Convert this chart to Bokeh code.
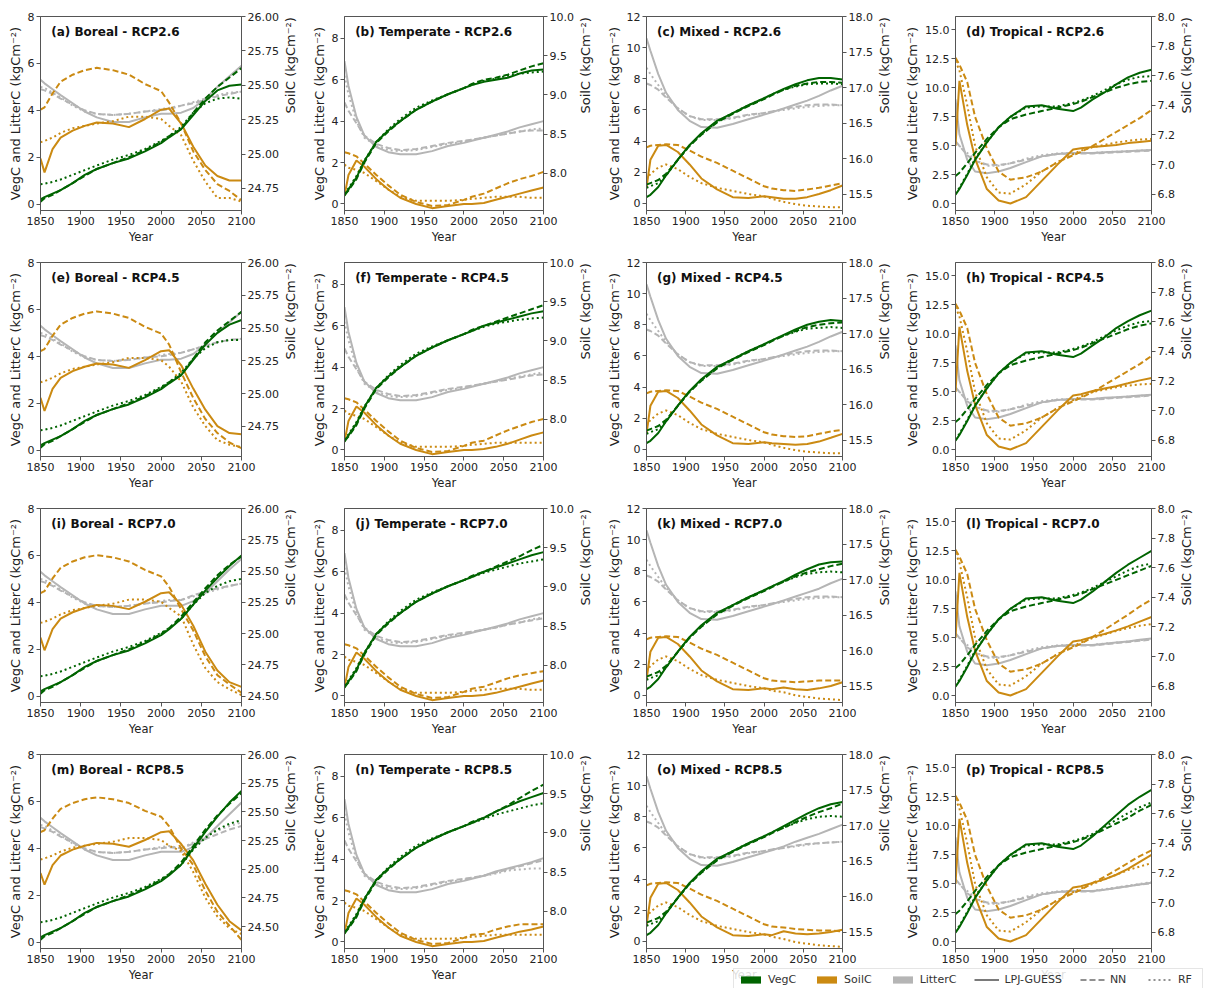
import math
from bokeh.plotting import figure
from bokeh.layouts import gridplot, column
from bokeh.models import (Range1d, LinearAxis, FixedTicker, Label, Legend,
                          LegendItem, PrintfTickFormatter)
from bokeh.embed import file_html
from bokeh.resources import INLINE

# ---------------------------------------------------------------- data
HIST_YEARS = [1850, 1855, 1865, 1875, 1890, 1905, 1920, 1940, 1960, 1980, 2000, 2010]
FUT_YEARS = [2025, 2040, 2055, 2070, 2085, 2100]
SCENARIOS = ["RCP2.6", "RCP4.5", "RCP7.0", "RCP8.5"]
REGIONS = ["Boreal", "Temperate", "Mixed", "Tropical"]
MODELS = ["LPJ-GUESS", "NN", "RF"]
X_TICKS = [1850, 1900, 1950, 2000, 2050, 2100]

# ---- Boreal
boreal_veg_lpj_hist = [0.2, 0.3, 0.45, 0.6, 0.9, 1.25, 1.5, 1.75, 1.95, 2.25, 2.6, 2.85]
boreal_veg_nn_hist = [0.1, 0.25, 0.4, 0.6, 0.9, 1.2, 1.5, 1.75, 2.0, 2.3, 2.65, 2.9]
boreal_veg_rf_hist = [0.85, 0.87, 0.95, 1.05, 1.25, 1.45, 1.65, 1.9, 2.1, 2.35, 2.7, 2.9]
boreal_veg_lpj_fut = {"RCP2.6": [3.2, 3.8, 4.4, 4.85, 5.05, 5.1], "RCP4.5": [3.2, 3.85, 4.5, 5.0, 5.35, 5.55],
                      "RCP7.0": [3.3, 3.9, 4.5, 5.05, 5.55, 6.0], "RCP8.5": [3.3, 4.0, 4.7, 5.35, 5.95, 6.45]}
boreal_veg_nn_fut = {"RCP2.6": [3.2, 3.9, 4.5, 5.0, 5.4, 5.8], "RCP4.5": [3.2, 3.9, 4.6, 5.1, 5.5, 5.9],
                     "RCP7.0": [3.4, 4.0, 4.6, 5.15, 5.6, 5.95], "RCP8.5": [3.4, 4.1, 4.8, 5.4, 5.9, 6.35]}
boreal_veg_rf_fut = {"RCP2.6": [3.3, 3.9, 4.3, 4.5, 4.55, 4.5], "RCP4.5": [3.3, 3.9, 4.35, 4.6, 4.7, 4.7],
                     "RCP7.0": [3.3, 3.9, 4.4, 4.7, 4.9, 5.0], "RCP8.5": [3.3, 3.95, 4.45, 4.8, 5.05, 5.2]}
boreal_lit_lpj_hist = [5.3, 5.15, 4.9, 4.65, 4.3, 3.95, 3.7, 3.5, 3.5, 3.7, 3.85, 3.85]
boreal_lit_nn_hist = [4.9, 4.85, 4.7, 4.5, 4.25, 4.0, 3.85, 3.8, 3.85, 3.95, 4.0, 4.05]
boreal_lit_rf_hist = [5.0, 4.95, 4.75, 4.55, 4.2, 3.95, 3.85, 3.8, 3.85, 3.95, 4.05, 4.1]
boreal_lit_lpj_fut = {"RCP2.6": [3.9, 4.1, 4.5, 5.0, 5.45, 5.9], "RCP4.5": [3.9, 4.1, 4.5, 5.0, 5.45, 5.9],
                      "RCP7.0": [3.85, 4.05, 4.4, 4.9, 5.4, 5.85], "RCP8.5": [3.85, 4.05, 4.45, 4.95, 5.45, 5.95]}
boreal_lit_nn_fut = {"RCP2.6": [4.2, 4.3, 4.45, 4.6, 4.7, 4.8], "RCP4.5": [4.15, 4.3, 4.45, 4.6, 4.7, 4.75],
                     "RCP7.0": [4.1, 4.3, 4.45, 4.6, 4.7, 4.8], "RCP8.5": [4.0, 4.2, 4.4, 4.6, 4.8, 4.95]}
boreal_lit_rf_fut = {"RCP2.6": [4.2, 4.35, 4.5, 4.65, 4.75, 4.8], "RCP4.5": [4.15, 4.3, 4.45, 4.6, 4.7, 4.75],
                     "RCP7.0": [4.1, 4.25, 4.4, 4.55, 4.7, 4.8], "RCP8.5": [4.0, 4.25, 4.5, 4.75, 4.95, 5.1]}
boreal_soil_lpj_hist = [24.968, 24.867, 25.036, 25.12, 25.171, 25.205, 25.23, 25.222, 25.196, 25.255, 25.323, 25.331]
boreal_soil_nn_hist = [25.323, 25.34, 25.441, 25.526, 25.577, 25.61, 25.627, 25.61, 25.577, 25.509, 25.458, 25.374]
boreal_soil_rf_hist = [25.086, 25.095, 25.12, 25.154, 25.188, 25.205, 25.222, 25.239, 25.272, 25.272, 25.255, 25.205]
boreal_soil_lpj_fut = {"RCP2.6": [25.222, 25.053, 24.917, 24.841, 24.808, 24.808],
                       "RCP4.5": [25.216, 25.038, 24.877, 24.752, 24.699, 24.69],
                       "RCP7.0": [25.231, 25.063, 24.856, 24.706, 24.613, 24.575],
                       "RCP8.5": [25.22, 25.078, 24.874, 24.691, 24.548, 24.467]}
boreal_soil_nn_fut = {"RCP2.6": [25.222, 25.019, 24.884, 24.782, 24.732, 24.664],
                      "RCP4.5": [25.162, 24.966, 24.806, 24.699, 24.627, 24.583],
                      "RCP7.0": [25.194, 25.025, 24.819, 24.669, 24.594, 24.528],
                      "RCP8.5": [25.179, 25.037, 24.813, 24.63, 24.508, 24.385]}
boreal_soil_rf_fut = {"RCP2.6": [25.137, 24.951, 24.8, 24.681, 24.681, 24.655],
                      "RCP4.5": [25.091, 24.895, 24.752, 24.645, 24.61, 24.592],
                      "RCP7.0": [25.138, 24.913, 24.725, 24.613, 24.556, 24.509],
                      "RCP8.5": [25.159, 24.976, 24.752, 24.589, 24.487, 24.436]}

# ---- Temperate
temperate_veg_lpj_hist = [0.4, 0.7, 1.27, 2.07, 3.0, 3.55, 4.0, 4.55, 4.95, 5.3, 5.6, 5.75]
temperate_veg_nn_hist = [0.45, 0.65, 1.2, 2.0, 2.95, 3.5, 4.0, 4.55, 4.95, 5.3, 5.6, 5.8]
temperate_veg_rf_hist = [0.5, 0.75, 1.35, 2.1, 3.0, 3.6, 4.1, 4.65, 5.0, 5.3, 5.6, 5.75]
temperate_veg_lpj_fut = {"RCP2.6": [5.9, 6.0, 6.1, 6.3, 6.45, 6.5], "RCP4.5": [6.0, 6.15, 6.3, 6.45, 6.6, 6.7],
                         "RCP7.0": [6.0, 6.2, 6.4, 6.6, 6.8, 6.95], "RCP8.5": [6.0, 6.3, 6.55, 6.8, 7.0, 7.2]}
temperate_veg_nn_fut = {"RCP2.6": [6.0, 6.1, 6.25, 6.45, 6.65, 6.8], "RCP4.5": [6.0, 6.2, 6.4, 6.6, 6.8, 7.0],
                        "RCP7.0": [6.0, 6.25, 6.5, 6.75, 7.05, 7.3], "RCP8.5": [6.0, 6.3, 6.6, 6.95, 7.3, 7.6]}
temperate_veg_rf_fut = {"RCP2.6": [5.95, 6.05, 6.2, 6.3, 6.35, 6.4], "RCP4.5": [5.95, 6.1, 6.2, 6.3, 6.35, 6.4],
                        "RCP7.0": [5.95, 6.1, 6.25, 6.4, 6.5, 6.6], "RCP8.5": [5.95, 6.15, 6.3, 6.45, 6.6, 6.7]}
temperate_lit_lpj_hist = [6.9, 5.7, 4.2, 3.3, 2.75, 2.5, 2.4, 2.4, 2.55, 2.8, 2.95, 3.05]
temperate_lit_nn_hist = [4.9, 4.5, 3.9, 3.3, 2.9, 2.7, 2.6, 2.65, 2.8, 2.95, 3.05, 3.1]
temperate_lit_rf_hist = [6.2, 5.3, 4.0, 3.2, 2.8, 2.6, 2.55, 2.6, 2.75, 2.9, 3.0, 3.1]
temperate_lit_lpj_fut = {"RCP2.6": [3.2, 3.35, 3.5, 3.7, 3.85, 4.0], "RCP4.5": [3.2, 3.35, 3.5, 3.7, 3.85, 4.0],
                         "RCP7.0": [3.2, 3.35, 3.5, 3.7, 3.85, 4.0], "RCP8.5": [3.2, 3.4, 3.55, 3.7, 3.85, 4.05]}
temperate_lit_nn_fut = {"RCP2.6": [3.2, 3.3, 3.4, 3.5, 3.55, 3.55], "RCP4.5": [3.2, 3.3, 3.4, 3.5, 3.6, 3.65],
                        "RCP7.0": [3.2, 3.3, 3.45, 3.55, 3.65, 3.75], "RCP8.5": [3.2, 3.35, 3.5, 3.65, 3.8, 3.95]}
temperate_lit_rf_fut = {"RCP2.6": [3.2, 3.3, 3.4, 3.5, 3.6, 3.65], "RCP4.5": [3.2, 3.3, 3.45, 3.55, 3.65, 3.75],
                        "RCP7.0": [3.2, 3.3, 3.45, 3.55, 3.7, 3.8], "RCP8.5": [3.2, 3.3, 3.45, 3.5, 3.55, 3.55]}
temperate_soil_lpj_hist = [7.714, 7.978, 8.163, 8.084, 7.925, 7.793, 7.687, 7.608, 7.555, 7.582, 7.608, 7.608]
temperate_soil_nn_hist = [8.269, 8.255, 8.216, 8.123, 7.978, 7.846, 7.727, 7.634, 7.582, 7.595, 7.661, 7.7]
temperate_soil_rf_hist = [8.11, 8.07, 8.044, 8.004, 7.899, 7.793, 7.7, 7.648, 7.648, 7.648, 7.661, 7.674]
temperate_soil_lpj_fut = {"RCP2.6": [7.621, 7.661, 7.7, 7.74, 7.78, 7.819],
                          "RCP4.5": [7.621, 7.648, 7.687, 7.74, 7.793, 7.833],
                          "RCP7.0": [7.621, 7.648, 7.687, 7.727, 7.767, 7.806],
                          "RCP8.5": [7.621, 7.661, 7.7, 7.74, 7.767, 7.806]}
temperate_soil_nn_fut = {"RCP2.6": [7.74, 7.806, 7.872, 7.925, 7.965, 8.018],
                         "RCP4.5": [7.727, 7.793, 7.859, 7.912, 7.965, 8.004],
                         "RCP7.0": [7.727, 7.78, 7.833, 7.872, 7.899, 7.925],
                         "RCP8.5": [7.714, 7.767, 7.806, 7.833, 7.833, 7.833]}
temperate_soil_rf_fut = {"RCP2.6": [7.687, 7.7, 7.7, 7.7, 7.687, 7.687],
                         "RCP4.5": [7.687, 7.7, 7.7, 7.7, 7.7, 7.7],
                         "RCP7.0": [7.687, 7.7, 7.7, 7.7, 7.687, 7.687],
                         "RCP8.5": [7.687, 7.7, 7.7, 7.7, 7.7, 7.7]}

# ---- Mixed
mixed_veg_lpj_hist = [0.4, 0.55, 1.05, 1.8, 2.8, 3.75, 4.5, 5.3, 5.8, 6.3, 6.75, 7.0]
mixed_veg_nn_hist = [1.2, 1.3, 1.5, 1.9, 2.8, 3.7, 4.4, 5.2, 5.75, 6.25, 6.7, 6.95]
mixed_veg_rf_hist = [1.0, 1.1, 1.3, 1.8, 2.8, 3.7, 4.45, 5.25, 5.8, 6.3, 6.75, 7.0]
mixed_veg_lpj_fut = {"RCP2.6": [7.35, 7.65, 7.9, 8.05, 8.05, 7.95], "RCP4.5": [7.35, 7.7, 8.0, 8.2, 8.3, 8.25],
                     "RCP7.0": [7.35, 7.75, 8.1, 8.4, 8.55, 8.6], "RCP8.5": [7.4, 7.8, 8.2, 8.55, 8.8, 8.95]}
mixed_veg_nn_fut = {"RCP2.6": [7.3, 7.55, 7.7, 7.8, 7.8, 7.75], "RCP4.5": [7.3, 7.6, 7.85, 8.0, 8.1, 8.15],
                    "RCP7.0": [7.3, 7.65, 7.9, 8.1, 8.3, 8.45], "RCP8.5": [7.3, 7.65, 8.0, 8.3, 8.55, 8.85]}
mixed_veg_rf_fut = {"RCP2.6": [7.3, 7.5, 7.65, 7.7, 7.7, 7.65], "RCP4.5": [7.3, 7.55, 7.75, 7.8, 7.85, 7.8],
                    "RCP7.0": [7.3, 7.6, 7.8, 7.9, 7.95, 7.9], "RCP8.5": [7.3, 7.6, 7.85, 8.0, 8.05, 8.0]}
mixed_lit_lpj_hist = [10.6, 9.8, 8.3, 7.1, 6.0, 5.3, 4.9, 4.85, 5.1, 5.4, 5.7, 5.85]
mixed_lit_nn_hist = [7.7, 7.6, 7.3, 6.8, 6.1, 5.6, 5.4, 5.4, 5.5, 5.7, 5.8, 5.9]
mixed_lit_rf_hist = [8.7, 8.3, 7.6, 6.9, 6.1, 5.6, 5.35, 5.35, 5.45, 5.65, 5.8, 5.9]
mixed_lit_lpj_fut = {"RCP2.6": [6.1, 6.35, 6.6, 6.9, 7.25, 7.55], "RCP4.5": [6.1, 6.35, 6.6, 6.9, 7.25, 7.55],
                     "RCP7.0": [6.1, 6.35, 6.6, 6.85, 7.2, 7.5], "RCP8.5": [6.1, 6.4, 6.65, 6.9, 7.2, 7.5]}
mixed_lit_nn_fut = {"RCP2.6": [6.05, 6.2, 6.3, 6.35, 6.35, 6.3], "RCP4.5": [6.05, 6.2, 6.3, 6.35, 6.35, 6.3],
                    "RCP7.0": [6.05, 6.2, 6.3, 6.35, 6.35, 6.3], "RCP8.5": [6.0, 6.15, 6.25, 6.3, 6.35, 6.4]}
mixed_lit_rf_fut = {"RCP2.6": [6.0, 6.1, 6.2, 6.25, 6.3, 6.3], "RCP4.5": [6.0, 6.1, 6.2, 6.25, 6.3, 6.3],
                    "RCP7.0": [6.0, 6.1, 6.2, 6.25, 6.3, 6.3], "RCP8.5": [6.0, 6.1, 6.2, 6.3, 6.35, 6.4]}
mixed_soil_lpj_hist = [15.589, 15.984, 16.181, 16.192, 16.093, 15.918, 15.721, 15.567, 15.458, 15.447, 15.469, 15.458]
mixed_soil_nn_hist = [16.159, 16.181, 16.192, 16.203, 16.192, 16.115, 16.028, 15.94, 15.83, 15.721, 15.611, 15.578]
mixed_soil_rf_hist = [15.699, 15.786, 15.874, 15.918, 15.852, 15.743, 15.655, 15.589, 15.545, 15.502, 15.469, 15.436]
mixed_soil_lpj_fut = {"RCP2.6": [15.436, 15.436, 15.458, 15.502, 15.556, 15.622],
                      "RCP4.5": [15.447, 15.436, 15.447, 15.48, 15.534, 15.589],
                      "RCP7.0": [15.48, 15.458, 15.447, 15.469, 15.502, 15.556],
                      "RCP8.5": [15.512, 15.48, 15.469, 15.48, 15.502, 15.534]}
mixed_soil_nn_fut = {"RCP2.6": [15.556, 15.545, 15.567, 15.589, 15.622, 15.655],
                     "RCP4.5": [15.556, 15.545, 15.556, 15.589, 15.622, 15.644],
                     "RCP7.0": [15.567, 15.556, 15.567, 15.578, 15.578, 15.578],
                     "RCP8.5": [15.567, 15.545, 15.534, 15.523, 15.523, 15.512]}
mixed_soil_rf_fut = {"RCP2.6": [15.392, 15.359, 15.337, 15.326, 15.315, 15.315],
                     "RCP4.5": [15.392, 15.359, 15.337, 15.326, 15.315, 15.315],
                     "RCP7.0": [15.414, 15.37, 15.348, 15.326, 15.315, 15.304],
                     "RCP8.5": [15.403, 15.359, 15.337, 15.315, 15.304, 15.293]}

# ---- Tropical
tropical_veg_lpj_hist = [0.8, 1.3, 2.5, 3.8, 5.3, 6.6, 7.5, 8.4, 8.5, 8.2, 8.0, 8.3]
tropical_veg_nn_hist = [2.4, 2.7, 3.5, 4.4, 5.6, 6.6, 7.3, 7.7, 8.0, 8.3, 8.6, 8.8]
tropical_veg_rf_hist = [0.9, 1.4, 2.6, 3.9, 5.3, 6.6, 7.5, 8.3, 8.4, 8.4, 8.7, 8.9]
tropical_veg_lpj_fut = {"RCP2.6": [9.0, 9.6, 10.3, 10.9, 11.3, 11.55], "RCP4.5": [9.0, 9.7, 10.5, 11.1, 11.6, 12.0],
                        "RCP7.0": [9.0, 9.8, 10.6, 11.3, 11.9, 12.5], "RCP8.5": [9.1, 10.0, 10.9, 11.8, 12.5, 13.1]}
tropical_veg_nn_fut = {"RCP2.6": [9.2, 9.6, 10.0, 10.3, 10.5, 10.6], "RCP4.5": [9.2, 9.6, 10.0, 10.4, 10.7, 10.9],
                       "RCP7.0": [9.2, 9.6, 10.0, 10.4, 10.8, 11.2], "RCP8.5": [9.2, 9.7, 10.2, 10.7, 11.3, 11.8]}
tropical_veg_rf_fut = {"RCP2.6": [9.3, 9.8, 10.3, 10.7, 10.95, 11.0], "RCP4.5": [9.3, 9.8, 10.3, 10.7, 11.0, 11.1],
                       "RCP7.0": [9.3, 9.8, 10.3, 10.8, 11.2, 11.4], "RCP8.5": [9.3, 9.9, 10.5, 11.1, 11.6, 12.0]}
tropical_lit_lpj_hist = [9.0, 6.0, 3.8, 2.8, 2.65, 2.8, 3.1, 3.6, 4.1, 4.3, 4.4, 4.4]
tropical_lit_nn_hist = [5.4, 5.0, 4.2, 3.7, 3.4, 3.35, 3.5, 3.8, 4.1, 4.3, 4.35, 4.35]
tropical_lit_rf_hist = [5.3, 5.0, 4.4, 3.8, 3.3, 3.3, 3.5, 3.9, 4.2, 4.35, 4.4, 4.4]
tropical_lit_lpj_fut = {"RCP2.6": [4.4, 4.45, 4.5, 4.55, 4.6, 4.65], "RCP4.5": [4.4, 4.5, 4.55, 4.6, 4.7, 4.75],
                        "RCP7.0": [4.4, 4.5, 4.6, 4.7, 4.85, 4.95], "RCP8.5": [4.4, 4.5, 4.65, 4.8, 4.95, 5.1]}
tropical_lit_nn_fut = {"RCP2.6": [4.35, 4.4, 4.45, 4.5, 4.55, 4.6], "RCP4.5": [4.35, 4.4, 4.5, 4.55, 4.6, 4.7],
                       "RCP7.0": [4.35, 4.45, 4.55, 4.65, 4.75, 4.85], "RCP8.5": [4.35, 4.5, 4.65, 4.8, 4.95, 5.05]}
tropical_lit_rf_fut = {"RCP2.6": [4.4, 4.45, 4.5, 4.55, 4.6, 4.65], "RCP4.5": [4.4, 4.45, 4.5, 4.6, 4.65, 4.75],
                       "RCP7.0": [4.4, 4.5, 4.6, 4.7, 4.8, 4.9], "RCP8.5": [4.4, 4.55, 4.7, 4.85, 5.0, 5.15]}
tropical_soil_lpj_hist = [7.126, 7.565, 7.267, 7.039, 6.835, 6.757, 6.737, 6.78, 6.89, 7.0, 7.102, 7.11]
tropical_soil_nn_hist = [7.722, 7.675, 7.557, 7.322, 7.11, 6.953, 6.898, 6.914, 6.953, 7.016, 7.063, 7.086]
tropical_soil_rf_hist = [7.699, 7.636, 7.4, 7.126, 6.914, 6.812, 6.804, 6.867, 6.953, 7.016, 7.071, 7.094]
tropical_soil_lpj_fut = {"RCP2.6": [7.118, 7.126, 7.133, 7.145, 7.153, 7.161],
                         "RCP4.5": [7.133, 7.149, 7.165, 7.184, 7.204, 7.22],
                         "RCP7.0": [7.133, 7.153, 7.177, 7.204, 7.236, 7.267],
                         "RCP8.5": [7.133, 7.157, 7.188, 7.228, 7.275, 7.322]}
tropical_soil_nn_fut = {"RCP2.6": [7.126, 7.173, 7.22, 7.267, 7.314, 7.369],
                        "RCP4.5": [7.126, 7.173, 7.22, 7.267, 7.314, 7.369],
                        "RCP7.0": [7.133, 7.181, 7.232, 7.283, 7.338, 7.385],
                        "RCP8.5": [7.133, 7.173, 7.22, 7.267, 7.314, 7.353]}
tropical_soil_rf_fut = {"RCP2.6": [7.118, 7.133, 7.149, 7.161, 7.169, 7.173],
                        "RCP4.5": [7.126, 7.141, 7.157, 7.169, 7.177, 7.181],
                        "RCP7.0": [7.126, 7.149, 7.173, 7.192, 7.208, 7.22],
                        "RCP8.5": [7.126, 7.157, 7.188, 7.22, 7.243, 7.267]}

DATA = {
    "Boreal": {
        "veg": [(boreal_veg_lpj_hist, boreal_veg_lpj_fut), (boreal_veg_nn_hist, boreal_veg_nn_fut), (boreal_veg_rf_hist, boreal_veg_rf_fut)],
        "lit": [(boreal_lit_lpj_hist, boreal_lit_lpj_fut), (boreal_lit_nn_hist, boreal_lit_nn_fut), (boreal_lit_rf_hist, boreal_lit_rf_fut)],
        "soil": [(boreal_soil_lpj_hist, boreal_soil_lpj_fut), (boreal_soil_nn_hist, boreal_soil_nn_fut), (boreal_soil_rf_hist, boreal_soil_rf_fut)]},
    "Temperate": {
        "veg": [(temperate_veg_lpj_hist, temperate_veg_lpj_fut), (temperate_veg_nn_hist, temperate_veg_nn_fut), (temperate_veg_rf_hist, temperate_veg_rf_fut)],
        "lit": [(temperate_lit_lpj_hist, temperate_lit_lpj_fut), (temperate_lit_nn_hist, temperate_lit_nn_fut), (temperate_lit_rf_hist, temperate_lit_rf_fut)],
        "soil": [(temperate_soil_lpj_hist, temperate_soil_lpj_fut), (temperate_soil_nn_hist, temperate_soil_nn_fut), (temperate_soil_rf_hist, temperate_soil_rf_fut)]},
    "Mixed": {
        "veg": [(mixed_veg_lpj_hist, mixed_veg_lpj_fut), (mixed_veg_nn_hist, mixed_veg_nn_fut), (mixed_veg_rf_hist, mixed_veg_rf_fut)],
        "lit": [(mixed_lit_lpj_hist, mixed_lit_lpj_fut), (mixed_lit_nn_hist, mixed_lit_nn_fut), (mixed_lit_rf_hist, mixed_lit_rf_fut)],
        "soil": [(mixed_soil_lpj_hist, mixed_soil_lpj_fut), (mixed_soil_nn_hist, mixed_soil_nn_fut), (mixed_soil_rf_hist, mixed_soil_rf_fut)]},
    "Tropical": {
        "veg": [(tropical_veg_lpj_hist, tropical_veg_lpj_fut), (tropical_veg_nn_hist, tropical_veg_nn_fut), (tropical_veg_rf_hist, tropical_veg_rf_fut)],
        "lit": [(tropical_lit_lpj_hist, tropical_lit_lpj_fut), (tropical_lit_nn_hist, tropical_lit_nn_fut), (tropical_lit_rf_hist, tropical_lit_rf_fut)],
        "soil": [(tropical_soil_lpj_hist, tropical_soil_lpj_fut), (tropical_soil_nn_hist, tropical_soil_nn_fut), (tropical_soil_rf_hist, tropical_soil_rf_fut)]},
}

# axis ranges / ticks
LEFT_RANGE = {"Boreal": (-0.27, 8.0), "Temperate": (-0.32, 9.06), "Mixed": (-0.46, 12.0), "Tropical": (-0.56, 16.14)}
LEFT_TICKS = {"Boreal": [0, 2, 4, 6, 8], "Temperate": [0, 2, 4, 6, 8], "Mixed": [0, 2, 4, 6, 8, 10, 12],
              "Tropical": [0.0, 2.5, 5.0, 7.5, 10.0, 12.5, 15.0]}
LEFT_FMT = {"Boreal": "%d", "Temperate": "%d", "Mixed": "%d", "Tropical": "%.1f"}
RIGHT_RANGE = {"Temperate": (7.525, 10.0), "Mixed": (15.27, 18.0), "Tropical": (6.69, 8.0)}
BOREAL_RIGHT_RANGE = {"RCP2.6": (24.59, 26.0), "RCP4.5": (24.52, 26.0), "RCP7.0": (24.45, 26.0), "RCP8.5": (24.31, 26.0)}
RIGHT_TICKS = {"Boreal_hi": [24.75, 25.0, 25.25, 25.5, 25.75, 26.0],
               "Boreal_lo": [24.5, 24.75, 25.0, 25.25, 25.5, 25.75, 26.0],
               "Temperate": [8.0, 8.5, 9.0, 9.5, 10.0], "Mixed": [15.5, 16.0, 16.5, 17.0, 17.5, 18.0],
               "Tropical": [6.8, 7.0, 7.2, 7.4, 7.6, 7.8, 8.0]}
RIGHT_FMT = {"Boreal": "%.2f", "Temperate": "%.1f", "Mixed": "%.1f", "Tropical": "%.1f"}
LEGEND_PATCHES = [("VegC", "#006400"), ("SoilC", "#CB8A12"), ("LitterC", "#B5B5B5")]

# ---------------------------------------------------------------- style
FONT = "DejaVu Sans"
C_VEG, C_SOIL, C_LIT = "#006400", "#CB8A12", "#B5B5B5"
DASHES = {"LPJ-GUESS": "solid", "NN": "6 3", "RF": "2 3"}
AX_COL = "#555555"
TXT_COL = "#222222"

FRAME_W = 206
COL_BL = [40, 34, 38, 48]
COL_BR = [62, 55, 55, 48]
COL_W = [l + FRAME_W + r for l, r in zip(COL_BL, COL_BR)]
ROW_H = [246, 246, 246, 246]
BT, BB = 16, 34


def style_axis(ax, label_size, label_standoff=2):
    ax.major_tick_out = 4
    ax.major_tick_in = 0
    ax.minor_tick_line_color = None
    ax.axis_line_color = AX_COL
    ax.major_tick_line_color = AX_COL
    ax.major_label_text_font = FONT
    ax.major_label_text_font_size = "11px"
    ax.major_label_text_color = TXT_COL
    ax.major_label_standoff = 2
    ax.axis_label_text_font = FONT
    ax.axis_label_text_font_size = label_size
    ax.axis_label_text_font_style = "normal"
    ax.axis_label_text_color = TXT_COL
    ax.axis_label_standoff = label_standoff


letters = "abcdefghijklmnop"
rows = []
for ri, scen in enumerate(SCENARIOS):
    row = []
    for ci, reg in enumerate(REGIONS):
        ylo, yhi = LEFT_RANGE[reg]
        if reg == "Boreal":
            rlo, rhi = BOREAL_RIGHT_RANGE[scen]
            rticks = RIGHT_TICKS["Boreal_hi"] if ri < 2 else RIGHT_TICKS["Boreal_lo"]
        else:
            rlo, rhi = RIGHT_RANGE[reg]
            rticks = RIGHT_TICKS[reg]
        p = figure(width=COL_W[ci], height=ROW_H[ri], x_range=Range1d(1850, 2100),
                   y_range=Range1d(ylo, yhi), output_backend="svg", toolbar_location=None, tools="",
                   min_border_left=COL_BL[ci], min_border_right=COL_BR[ci],
                   min_border_top=BT, min_border_bottom=BB)
        p.extra_y_ranges = {"soil": Range1d(rlo, rhi)}
        p.xgrid.visible = False
        p.ygrid.visible = False
        p.outline_line_color = AX_COL
        p.background_fill_color = "white"
        p.border_fill_color = "white"

        p.xaxis.ticker = FixedTicker(ticks=X_TICKS)
        p.xaxis.axis_label = "Year"
        p.yaxis.ticker = FixedTicker(ticks=LEFT_TICKS[reg])
        p.yaxis.formatter = PrintfTickFormatter(format=LEFT_FMT[reg])
        p.yaxis.axis_label = "VegC and LitterC (kgCm\u207b\u00b2)"
        rax = LinearAxis(y_range_name="soil", ticker=FixedTicker(ticks=rticks),
                         formatter=PrintfTickFormatter(format=RIGHT_FMT[reg]),
                         axis_label="SoilC (kgCm\u207b\u00b2)")
        rax.axis_label_orientation = math.pi / 2
        p.add_layout(rax, "right")
        style_axis(p.xaxis[0], "11.5px")
        style_axis(p.yaxis[0], "13px")
        style_axis(rax, "13px", label_standoff=9)

        d = DATA[reg]
        years = HIST_YEARS + FUT_YEARS
        for mi, m in enumerate(MODELS):
            h, f = d["lit"][mi]
            p.line(years, h + f[scen], line_color=C_LIT, line_width=2, line_dash=DASHES[m])
        for mi, m in enumerate(MODELS):
            h, f = d["soil"][mi]
            p.line(years, h + f[scen], line_color=C_SOIL, line_width=2, line_dash=DASHES[m],
                   y_range_name="soil")
        for mi, m in enumerate(MODELS):
            h, f = d["veg"][mi]
            p.line(years, h + f[scen], line_color=C_VEG, line_width=2, line_dash=DASHES[m])

        title = "(%s) %s - %s" % (letters[ri * 4 + ci], reg, scen)
        p.add_layout(Label(x=1850 + 250 * 11 / float(FRAME_W), y=yhi - (yhi - ylo) * 9 / 196.0, text=title,
                           text_font=FONT, text_font_size="12px", text_font_style="bold",
                           text_color="#111111", text_baseline="top", text_align="left"))
        row.append(p)
    rows.append(row)

grid = gridplot(rows, toolbar_location=None)

# ---------------------------------------------------------------- legend strip (bottom right)
leg = figure(width=470, height=20, x_range=Range1d(0, 1), y_range=Range1d(0, 1),
             output_backend="svg", toolbar_location=None, tools="", min_border=0,
             x_axis_location=None, y_axis_location=None, outline_line_color=None,
             background_fill_alpha=0, border_fill_alpha=0, margin=(-16, 0, 0, 733))
leg.xgrid.visible = False
leg.ygrid.visible = False
NAN = float("nan")
items = []
for name, col in LEGEND_PATCHES:
    r = leg.quad(left=[NAN], right=[NAN], top=[NAN], bottom=[NAN], fill_color=col, line_color=None)
    items.append(LegendItem(label=name, renderers=[r]))
for m in MODELS:
    r = leg.line(x=[NAN, NAN], y=[NAN, NAN], line_color="#222222", line_width=1.2, line_dash=DASHES[m])
    items.append(LegendItem(label=m, renderers=[r]))
legend = Legend(items=items, orientation="horizontal", location="top_left", glyph_width=25,
                glyph_height=9, label_standoff=5, spacing=18, padding=4, margin=0,
                label_text_font=FONT, label_text_font_size="11px", label_text_color="#333333",
                label_height=11, border_line_color="#cccccc", border_line_width=1,
                background_fill_color="white", background_fill_alpha=0.85)
leg.add_layout(legend)

layout = column(grid, leg, spacing=0)
open("out.html", "w").write(file_html(layout, INLINE))
